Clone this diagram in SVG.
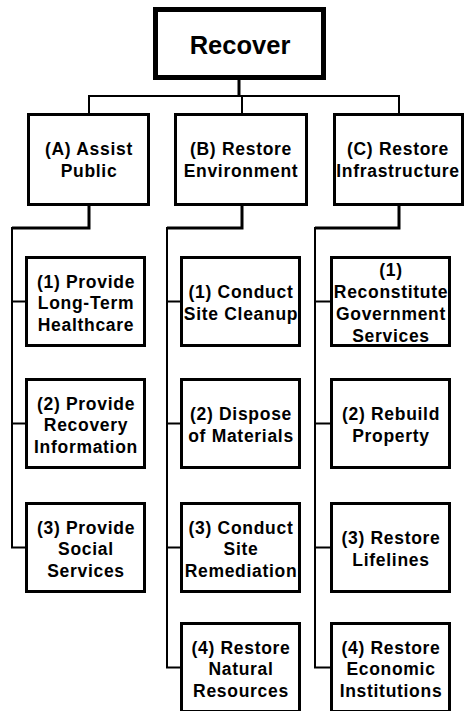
<svg xmlns="http://www.w3.org/2000/svg" width="465" height="711" viewBox="0 0 465 711">
<style>
.box{fill:#fff;stroke:#000;stroke-width:3}
.root{fill:#fff;stroke:#000;stroke-width:5}
.c{fill:none;stroke:#000;stroke-width:2}
.ct{fill:none;stroke:#000;stroke-width:3}
text{font-family:"Liberation Sans",Arial,sans-serif;font-weight:bold;font-size:17.5px;letter-spacing:0.7px;text-anchor:middle;fill:#000}
.rt{font-size:25.5px;letter-spacing:0}
</style>
<rect width="465" height="711" fill="#fff"/>
<g id="connectors">
<line class="ct" x1="239" y1="80" x2="239" y2="96"/>
<polyline class="c" points="89,114 89,96 399,96 399,114"/>
<line class="c" x1="242" y1="96" x2="242" y2="114"/>
<polyline class="ct" points="89,206 89,228 12,228"/>
<polyline class="c" points="12,227 12,547.5 26,547.5"/>
<line class="c" x1="12" y1="301.5" x2="26" y2="301.5"/>
<line class="c" x1="12" y1="423.5" x2="26" y2="423.5"/>
<polyline class="ct" points="242,206 242,228 167,228"/>
<polyline class="c" points="167,227 167,667.5 181,667.5"/>
<line class="c" x1="167" y1="301.5" x2="181" y2="301.5"/>
<line class="c" x1="167" y1="423.5" x2="181" y2="423.5"/>
<line class="c" x1="167" y1="547.5" x2="181" y2="547.5"/>
<polyline class="ct" points="399,206 399,228 315,228"/>
<polyline class="c" points="315,227 315,667.5 331,667.5"/>
<line class="c" x1="315" y1="301.5" x2="331" y2="301.5"/>
<line class="c" x1="315" y1="423.5" x2="331" y2="423.5"/>
<line class="c" x1="315" y1="547.5" x2="331" y2="547.5"/>
</g>
<g id="recover"><rect class="root" x="155.5" y="9.5" width="168" height="68"/><text class="rt" x="240" y="54">Recover</text></g>
<g id="A"><rect class="box" x="28.5" y="114.5" width="120" height="90"/><text x="89" y="155">(A) Assist</text><text x="89" y="177">Public</text></g>
<g id="B"><rect class="box" x="175.5" y="114.5" width="131" height="90"/><text x="241" y="155">(B) Restore</text><text x="241" y="177">Environment</text></g>
<g id="C"><rect class="box" x="334.5" y="114.5" width="128" height="90"/><text x="398" y="155">(C) Restore</text><text x="398" y="177">Infrastructure</text></g>
<g id="A1"><rect class="box" x="26.5" y="257.5" width="118" height="88"/><text x="86" y="287.5">(1) Provide</text><text x="86" y="309">Long-Term</text><text x="86" y="330.5">Healthcare</text></g>
<g id="A2"><rect class="box" x="26.5" y="379.5" width="118" height="88"/><text x="86" y="409.5">(2) Provide</text><text x="86" y="431">Recovery</text><text x="86" y="452.5">Information</text></g>
<g id="A3"><rect class="box" x="26.5" y="503.5" width="118" height="88"/><text x="86" y="533.5">(3) Provide</text><text x="86" y="555">Social</text><text x="86" y="576.5">Services</text></g>
<g id="B1"><rect class="box" x="181.5" y="257.5" width="118" height="88"/><text x="241" y="298">(1) Conduct</text><text x="241" y="319.5">Site Cleanup</text></g>
<g id="B2"><rect class="box" x="181.5" y="379.5" width="118" height="88"/><text x="241" y="420">(2) Dispose</text><text x="241" y="441.5">of Materials</text></g>
<g id="B3"><rect class="box" x="181.5" y="503.5" width="118" height="88"/><text x="241" y="533.5">(3) Conduct</text><text x="241" y="555">Site</text><text x="241" y="576.5">Remediation</text></g>
<g id="B4"><rect class="box" x="181.5" y="623.5" width="118" height="88"/><text x="241" y="653.5">(4) Restore</text><text x="241" y="675">Natural</text><text x="241" y="696.5">Resources</text></g>
<g id="C1"><rect class="box" x="331.5" y="257.5" width="118" height="88"/><text x="391" y="276">(1)</text><text x="391" y="298">Reconstitute</text><text x="391" y="320">Government</text><text x="391" y="342">Services</text></g>
<g id="C2"><rect class="box" x="331.5" y="379.5" width="118" height="88"/><text x="391" y="420">(2) Rebuild</text><text x="391" y="441.5">Property</text></g>
<g id="C3"><rect class="box" x="331.5" y="503.5" width="118" height="88"/><text x="391" y="544">(3) Restore</text><text x="391" y="565.5">Lifelines</text></g>
<g id="C4"><rect class="box" x="331.5" y="623.5" width="118" height="88"/><text x="391" y="653.5">(4) Restore</text><text x="391" y="675">Economic</text><text x="391" y="696.5">Institutions</text></g>
</svg>
